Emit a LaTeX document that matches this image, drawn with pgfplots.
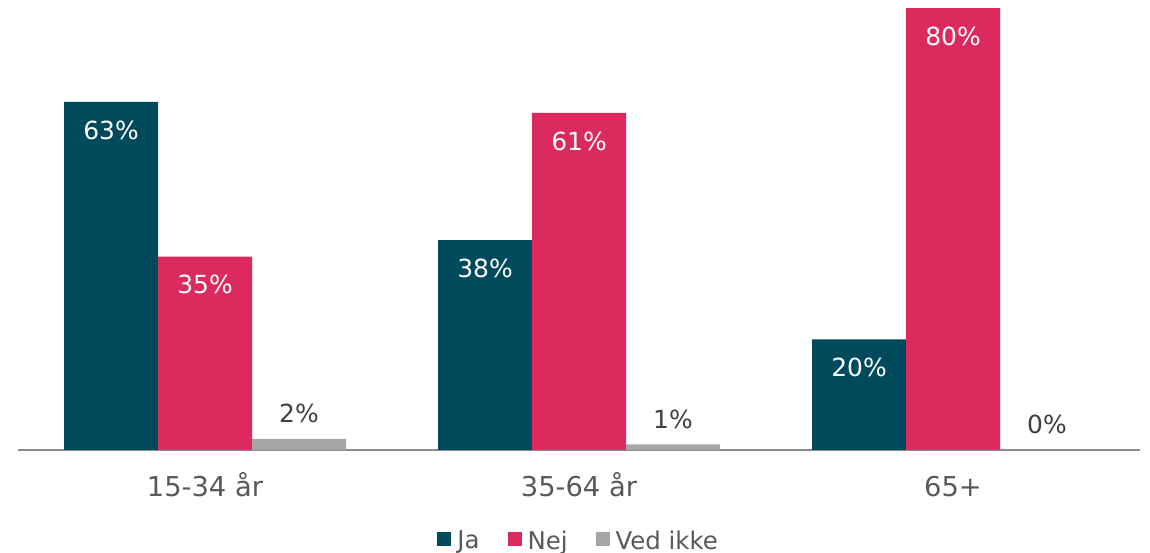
\documentclass[border=0pt]{standalone}
\usepackage{pgfplots}
\pgfplotsset{compat=1.18}
\usepackage{fontspec}
\setmainfont{DejaVu Sans}
\definecolor{cJa}{HTML}{004A5E}
\definecolor{cNej}{HTML}{DC2A5E}
\definecolor{cVed}{HTML}{A6A6A6}
\definecolor{txtgray}{HTML}{595959}
\definecolor{lblgray}{HTML}{404040}
\begin{document}
\begin{tikzpicture}
\path[use as bounding box] (0,0) rectangle (862.5pt,414.75pt);
\begin{axis}[
  at={(13.5pt,77.25pt)}, anchor=south west,
  scale only axis, width=841.5pt, height=337.5pt,
  /pgf/number format/assume math mode=true,
  ybar=0pt, bar width=70.5pt,
  xmin=-0.5, xmax=2.5, ymin=0, ymax=81.45,
  xtick=data, xticklabels={15-34 år,35-64 år,65+},
  xtick style={draw=none},
  xticklabel style={font=\fontsize{20.5}{24}\selectfont, text=txtgray, anchor=base, yshift=-30.5pt},
  hide y axis,
  axis x line*=bottom,
  x axis line style={-, draw=gray!90, line width=1.5pt},
  nodes near coords={\pgfmathprintnumber{\pgfplotspointmeta}\%},
  every node near coord/.append style={font=\fontsize{18.7}{22}\selectfont, anchor=center},
  legend columns=3,
  legend style={draw=none, at={(0.5,-0.202)}, anchor=center, font=\fontsize{18.3}{21}\selectfont, text=txtgray,
    /tikz/every even column/.append style={column sep=19pt},
    /tikz/every odd column/.append style={column sep=2.5pt}},
  legend image code/.code={\fill[#1] (0pt,-3.5pt) rectangle (10.5pt,7pt);},
  clip=false,
]
\addplot[fill=cJa, draw=none, every node near coord/.append style={text=white, yshift=-21pt}]
  coordinates {(0,63) (1,38) (2,20)};
\addplot[fill=cNej, draw=none, every node near coord/.append style={text=white, yshift=-21pt}]
  coordinates {(0,35) (1,61) (2,80)};
\addplot[fill=cVed, draw=none, every node near coord/.append style={text=lblgray, yshift=19pt}]
  coordinates {(0,2) (1,1) (2,0)};
\legend{Ja,Nej,Ved ikke}
\end{axis}
\end{tikzpicture}
\end{document}
